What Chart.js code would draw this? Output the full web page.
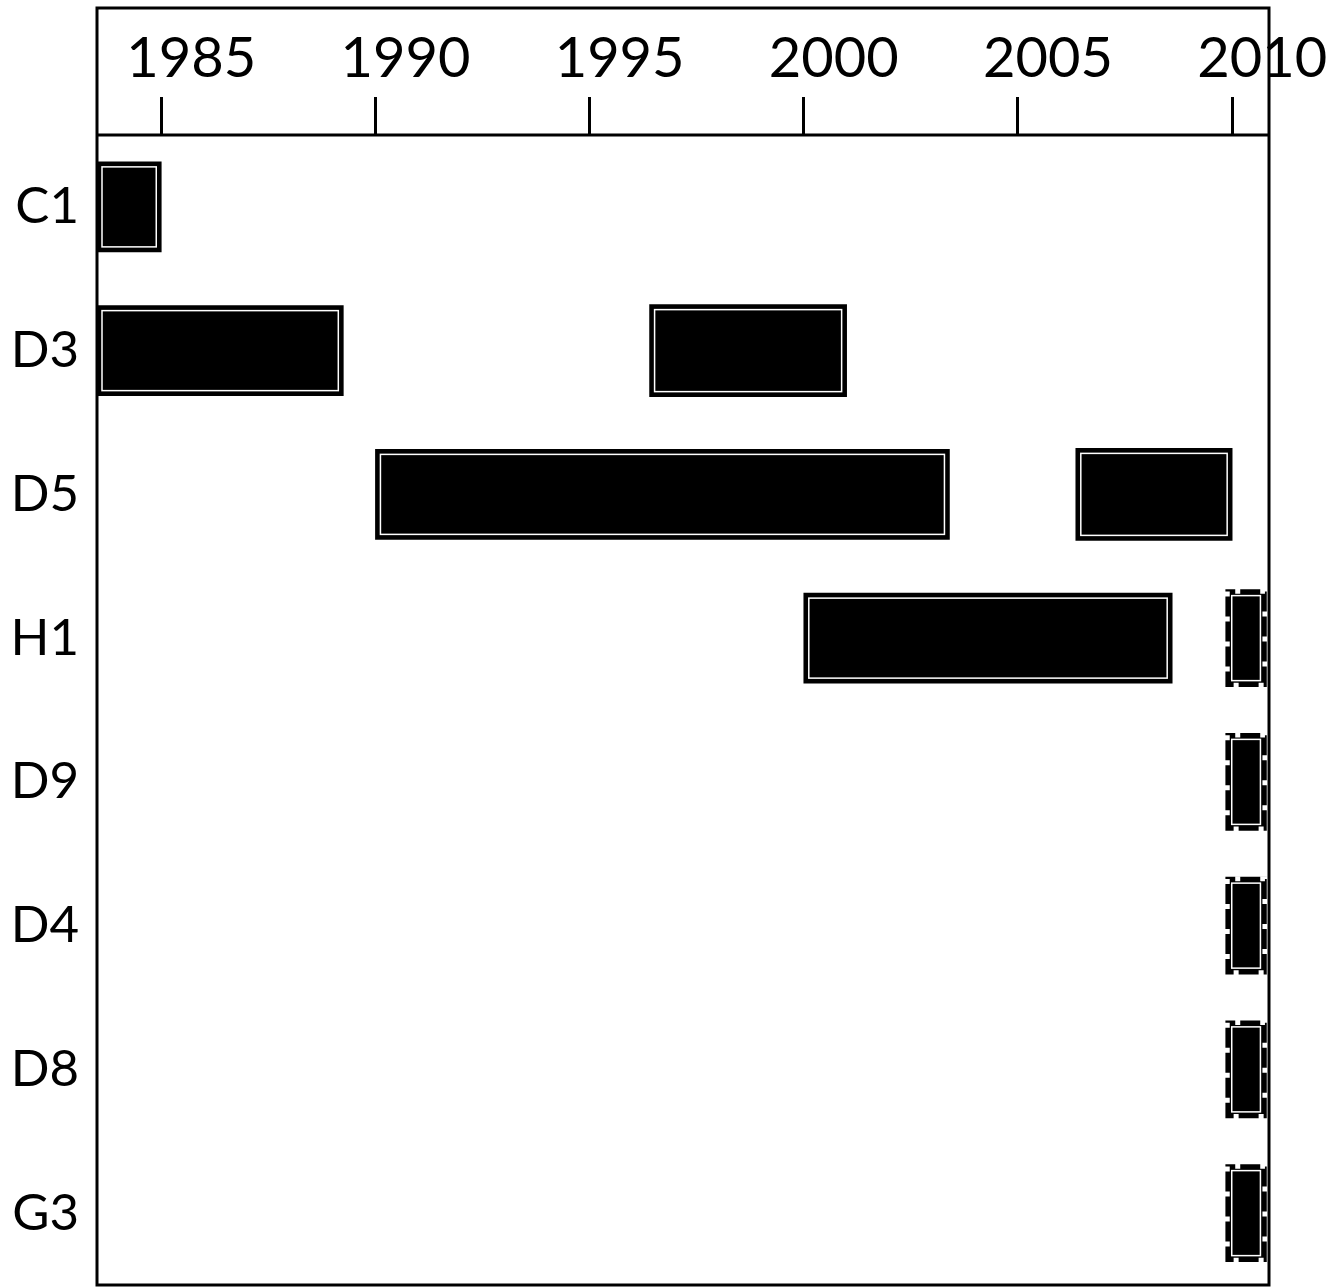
<!DOCTYPE html>
<html>
<head>
<meta charset="utf-8">
<script src="https://cdn.jsdelivr.net/npm/chart.js@4/dist/chart.umd.min.js"></script>
<style>
  html, body { margin: 0; padding: 0; background: #fff; overflow: hidden; }
  #wrap { width: 1327px; height: 1287px; position: relative; }
</style>
</head>
<body>
<div id="wrap"><canvas id="timeline"></canvas></div>
<script>
(() => {
  'use strict'

  // Rows of the timeline
  const categories = ['C1', 'D3', 'D5', 'H1', 'D9', 'D4', 'D8', 'G3'];

  // First period of each row (years)
  const firstStart = [1983.5, 1983.5, 1990.0, 2000.0, null, null, null, null];
  const firstEnd   = [1985.0, 1989.25, 2003.4, 2008.6, null, null, null, null];

  // Second period
  const secondStart = [null, 1996.4, 2006.35, null, null, null, null, null];
  const secondEnd   = [null, 2001.0, 2010.0, null, null, null, null, null];

  // Ongoing period (dashed)
  const ongoingStart = [null, null, null, 2009.85, 2009.85, 2009.85, 2009.85, 2009.85];
  const ongoingEnd   = [null, null, null, 2010.8, 2010.8, 2010.8, 2010.8, 2010.8];

  const tickYears = [1985, 1990, 1995, 2000, 2005, 2010];

  const spans = (s, e) => s.map((v, i) => (v === null ? null : [v, e[i]]));

  const FONT = 'Lato, "Open Sans", sans-serif';

  // frame + inner white lines on bars
  const framePlugin = {
    id: 'frame',
    afterDatasetsDraw(chart) {
      const c = chart.ctx;
      chart.data.datasets.forEach((ds, di) => {
        const meta = chart.getDatasetMeta(di);
        meta.data.forEach((bar, i) => {
          if (ds.data[i] === null) return;
          const p = bar.getProps(['x', 'y', 'base', 'height'], true);
          const x0 = Math.min(p.x, p.base), x1 = Math.max(p.x, p.base);
          const y0 = p.y - p.height / 2, y1 = p.y + p.height / 2;
          c.save();
          c.strokeStyle = '#fff';
          if (ds.dashed) {
            c.lineWidth = 5;
            c.setLineDash([5, 20]);
            c.lineDashOffset = -8;
            c.strokeRect(x0 + 1.5, y0 + 1.5, x1 - x0 - 3, y1 - y0 - 3);
            c.setLineDash([]);
            c.lineWidth = 1.5;
            c.strokeRect(x0 + 6, y0 + 6, x1 - x0 - 12, y1 - y0 - 12);
          } else {
            c.lineWidth = 1.5;
            c.strokeRect(x0 + 5, y0 + 5, x1 - x0 - 10, y1 - y0 - 10);
          }
          c.restore();
        });
      });
      const a = chart.chartArea;
      const top = chart.scales.x.top;
      c.save();
      c.strokeStyle = '#000';
      c.lineWidth = 3;
      c.strokeRect(a.left, top, a.right - a.left, a.bottom - top);
      c.beginPath();
      c.moveTo(a.left, a.top);
      c.lineTo(a.right, a.top);
      c.stroke();
      c.restore();
    }
  };

  const ctx = document.getElementById('timeline').getContext('2d');

  new Chart(ctx, {
    type: 'bar',
    data: {
      labels: categories,
      datasets: [
        { label: 'first', data: spans(firstStart, firstEnd), backgroundColor: '#000', borderWidth: 0, barThickness: 90 },
        { label: 'second', data: spans(secondStart, secondEnd), backgroundColor: '#000', borderWidth: 0, barThickness: 92 },
        { label: 'ongoing', data: spans(ongoingStart, ongoingEnd), backgroundColor: '#000', borderWidth: 0, barThickness: 97, dashed: true }
      ]
    },
    options: {
      indexAxis: 'y',
      responsive: true,
      maintainAspectRatio: false,
      animation: false,
      layout: { padding: { top: 8, right: 58, bottom: 2, left: 0 } },
      plugins: {
        legend: { display: false },
        tooltip: { enabled: false }
      },
      scales: {
        x: {
          type: 'linear',
          position: 'top',
          min: 1983.5,
          max: 2010.86,
          afterBuildTicks: (scale) => { scale.ticks = tickYears.map(v => ({ value: v })); },
          afterFit: (scale) => { scale.height = 127; },
          border: { display: false },
          grid: { drawOnChartArea: false, drawTicks: true, tickLength: 38, tickWidth: 3, tickColor: '#000' },
          ticks: {
            color: '#000',
            font: { family: FONT, size: 56 },
            padding: 4,
            labelOffset: 30,
            maxRotation: 0,
            autoSkip: false,
            callback: (v) => String(v)
          }
        },
        y: {
          afterFit: (scale) => {
            scale.width = 97;
            scale.paddingTop = 0;
            scale.paddingBottom = 0;
          },
          border: { display: false },
          grid: { display: false, drawTicks: false },
          ticks: {
            color: '#000',
            font: { family: FONT, size: 51 },
            padding: 18
          }
        }
      },
      datasets: { bar: { grouped: false } }
    },
    plugins: [framePlugin]
  });
})()
</script>
</body>
</html>
